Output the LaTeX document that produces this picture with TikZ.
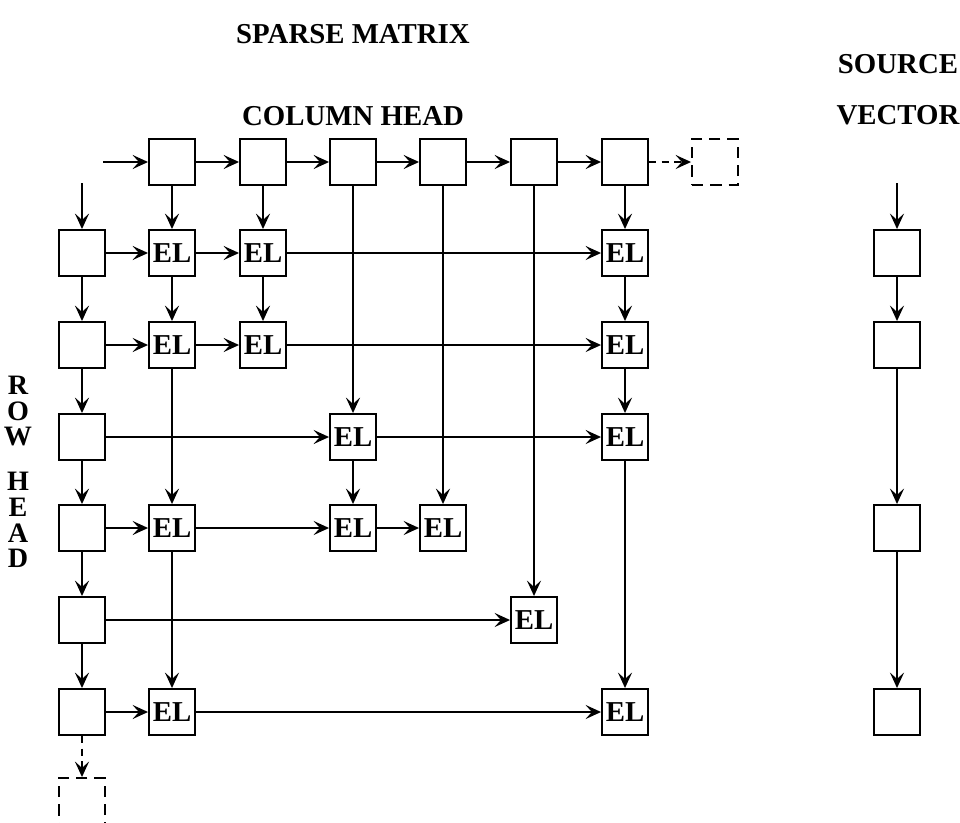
\documentclass[tikz,border=0pt]{standalone}
\usepackage{fontspec}
\setmainfont{Liberation Serif}
\usetikzlibrary{arrows.meta, positioning}

\begin{document}
\begin{tikzpicture}[
  x=0.025cm, y=-0.025cm,
  cell/.style={draw, line width=1.35pt, minimum width=1.15cm,
               minimum height=1.15cm, inner sep=0pt,
               font=\bfseries\fontsize{20.5}{24}\selectfont},
  ghost/.style={cell, dash pattern=on 8pt off 5pt},
  arr/.style={-{Stealth[length=11pt,width=10pt,inset=4.5pt]}, line width=1.3pt},
  darr/.style={arr, dash pattern=on 5pt off 4pt},
  ttl/.style={font=\bfseries\fontsize{20.5}{24}\selectfont},
  vlbl/.style={font=\bfseries\fontsize{20}{18.4}\selectfont, align=center,
               inner sep=0pt}
]
\useasboundingbox (0,0) rectangle (960,822);

% titles
\node[ttl] (tsm) at (353,34)  {SPARSE MATRIX};
\node[ttl] (tch) at (353,116) {COLUMN HEAD};
\node[ttl] (tsv1) at (898,64)  {SOURCE};
\node[ttl] (tsv2) at (898,115) {VECTOR};
\node[vlbl] (lrow)  at (18,411) {R\\O\\W};
\node[vlbl] (lhead) at (18,520) {H\\E\\A\\D};

% column heads
\coordinate (cin) at (103,162);
\node[cell] (ch1) at (172,162) {};
\node[cell] (ch2) at (263,162) {};
\node[cell] (ch3) at (353,162) {};
\node[cell] (ch4) at (443,162) {};
\node[cell] (ch5) at (534,162) {};
\node[cell] (ch6) at (625,162) {};
\node[ghost] (chx) at (715,162) {};

% row heads
\coordinate (rin) at (82,183);
\node[cell] (rh1) at (82,253) {};
\node[cell] (rh2) at (82,345) {};
\node[cell] (rh3) at (82,437) {};
\node[cell] (rh4) at (82,528) {};
\node[cell] (rh5) at (82,620) {};
\node[cell] (rh6) at (82,712) {};
\node[ghost] (rhx) at (82,801) {};

% elements
\node[cell] (e11) at (172,253) {EL};
\node[cell] (e12) at (263,253) {EL};
\node[cell] (e16) at (625,253) {EL};
\node[cell] (e21) at (172,345) {EL};
\node[cell] (e22) at (263,345) {EL};
\node[cell] (e26) at (625,345) {EL};
\node[cell] (e33) at (353,437) {EL};
\node[cell] (e36) at (625,437) {EL};
\node[cell] (e41) at (172,528) {EL};
\node[cell] (e43) at (353,528) {EL};
\node[cell] (e44) at (443,528) {EL};
\node[cell] (e55) at (534,620) {EL};
\node[cell] (e61) at (172,712) {EL};
\node[cell] (e66) at (625,712) {EL};

% source vector
\coordinate (sin) at (897,183);
\node[cell] (sv1) at (897,253) {};
\node[cell] (sv2) at (897,345) {};
\node[cell] (sv3) at (897,528) {};
\node[cell] (sv4) at (897,712) {};

% head chains
\draw[arr] (cin)--(ch1); \draw[arr] (ch1)--(ch2); \draw[arr] (ch2)--(ch3);
\draw[arr] (ch3)--(ch4); \draw[arr] (ch4)--(ch5); \draw[arr] (ch5)--(ch6);
\draw[darr] (ch6)--(chx);
\draw[arr] (rin)--(rh1); \draw[arr] (rh1)--(rh2); \draw[arr] (rh2)--(rh3);
\draw[arr] (rh3)--(rh4); \draw[arr] (rh4)--(rh5); \draw[arr] (rh5)--(rh6);
\draw[darr] (rh6)--(rhx);

% row links
\draw[arr] (rh1)--(e11); \draw[arr] (e11)--(e12); \draw[arr] (e12)--(e16);
\draw[arr] (rh2)--(e21); \draw[arr] (e21)--(e22); \draw[arr] (e22)--(e26);
\draw[arr] (rh3)--(e33); \draw[arr] (e33)--(e36);
\draw[arr] (rh4)--(e41); \draw[arr] (e41)--(e43); \draw[arr] (e43)--(e44);
\draw[arr] (rh5)--(e55);
\draw[arr] (rh6)--(e61); \draw[arr] (e61)--(e66);

% column links
\draw[arr] (ch1)--(e11); \draw[arr] (e11)--(e21); \draw[arr] (e21)--(e41);
\draw[arr] (e41)--(e61);
\draw[arr] (ch2)--(e12); \draw[arr] (e12)--(e22);
\draw[arr] (ch3)--(e33); \draw[arr] (e33)--(e43);
\draw[arr] (ch4)--(e44);
\draw[arr] (ch5)--(e55);
\draw[arr] (ch6)--(e16); \draw[arr] (e16)--(e26); \draw[arr] (e26)--(e36);
\draw[arr] (e36)--(e66);

% source vector chain
\draw[arr] (sin)--(sv1); \draw[arr] (sv1)--(sv2); \draw[arr] (sv2)--(sv3);
\draw[arr] (sv3)--(sv4);
\end{tikzpicture}
\end{document}
